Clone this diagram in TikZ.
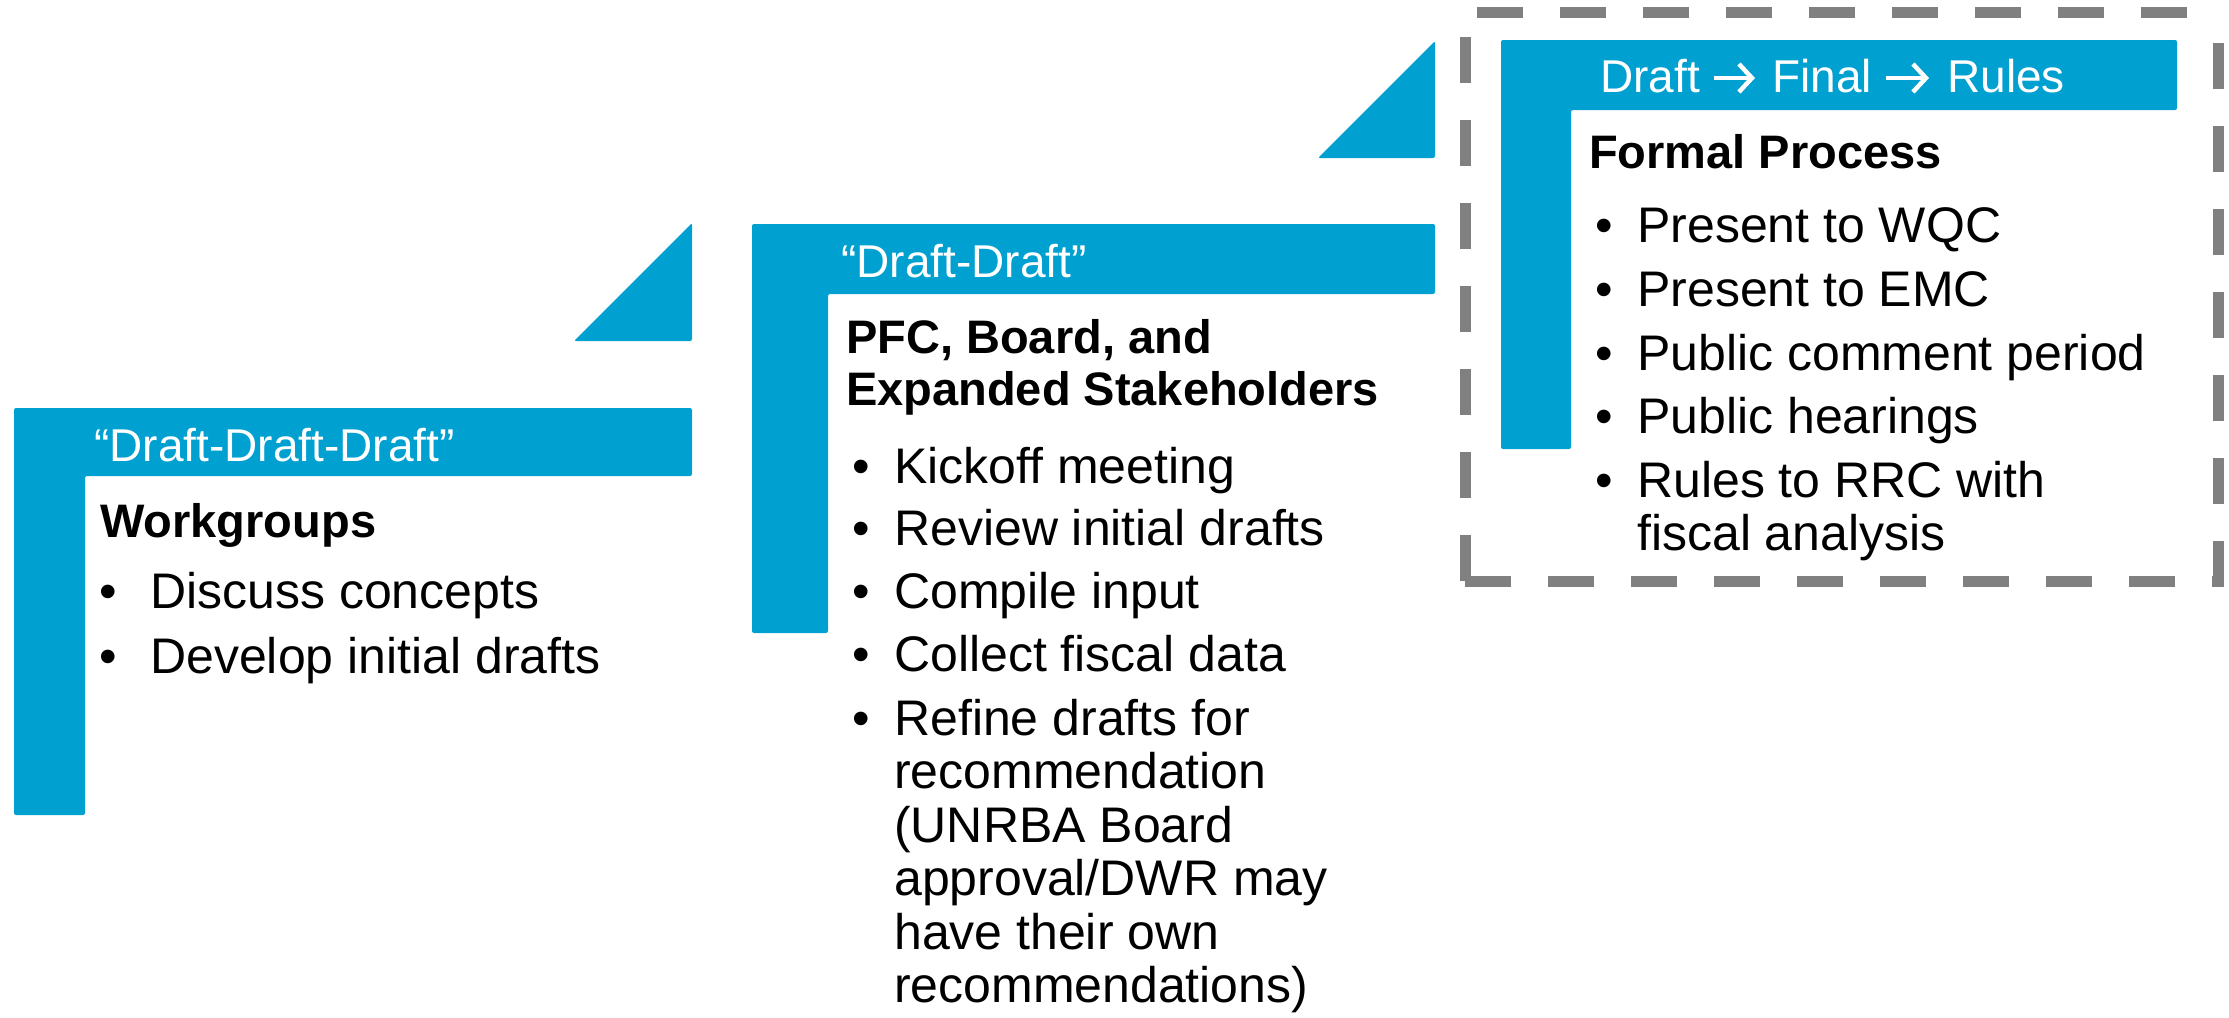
\documentclass[tikz,border=0pt]{standalone}
\usepackage{fontspec}
\setmainfont{Liberation Sans}
\usetikzlibrary{calc,arrows.meta}
\definecolor{blu}{RGB}{0,160,209}
\definecolor{dgrey}{RGB}{128,128,128}
\begin{document}
\begin{tikzpicture}[x=1pt,y=-1pt,
  bar/.style={fill=blu, rounded corners=2pt},
  dashline/.style={draw=dgrey, line width=11pt, dash pattern=on 46pt off 37pt},
  hdr/.style={anchor=base west, inner sep=0pt, text=white, font=\fontsize{46}{52}\selectfont},
  harrow/.style={draw=white, line width=4.5pt, -{Straight Barb[length=13pt,width=28pt]}},
  ttl/.style={anchor=base west, inner sep=0pt, font=\bfseries\fontsize{47}{52}\selectfont},
  bul/.style={anchor=base, inner sep=0pt, font=\fontsize{50}{54}\selectfont},
  itm/.style={anchor=base west, inner sep=0pt, font=\fontsize{50}{54}\selectfont},
]
\useasboundingbox (0,0) rectangle (2229,1017);

% dashed frame around the formal process
\coordinate (fbl) at (1465,581);
\coordinate (ftl) at (1465,12);
\coordinate (ftr) at (2218,12);
\coordinate (fbr) at (2218,581);
\draw[dashline] (fbl) -- (ftl) -- (ftr);
\draw[dashline] (fbl) -- (fbr) -- (ftr);

% L-shaped bars
\path[bar] (14,408) -- (692,408) -- (692,476) -- (85,476) -- (85,815) -- (14,815) -- cycle;
\path[bar] (752,224) -- (1435,224) -- (1435,294) -- (828,294) -- (828,633) -- (752,633) -- cycle;
\path[bar] (1501,40) -- (2177,40) -- (2177,110) -- (1571,110) -- (1571,449) -- (1501,449) -- cycle;

% step triangles
\path[bar] (692,223) -- (692,341) -- (574,341) -- cycle;
\path[bar] (1435,41) -- (1435,158) -- (1318,158) -- cycle;

% panel 1
\node[hdr] (h1) at (94,461) {“Draft-Draft-Draft”};
\node[ttl] (t1) at (100,537) {Workgroups};
\node[bul] (b1a) at (108,608) {•}; \node[itm] (i1a) at (150,608) {Discuss concepts};
\node[bul] (b1b) at (108,673) {•}; \node[itm] (i1b) at (150,673) {Develop initial drafts};

% panel 2
\node[hdr] (h2) at (841,277) {“Draft-Draft”};
\node[ttl] (t2a) at (846,353) {PFC, Board, and};
\node[ttl] (t2b) at (846,405) {Expanded Stakeholders};
\node[bul] (b2a) at (861,483) {•}; \node[itm] (i2a) at (894,483) {Kickoff meeting};
\node[bul] (b2b) at (861,545) {•}; \node[itm] (i2b) at (894,545) {Review initial drafts};
\node[bul] (b2c) at (861,608) {•}; \node[itm] (i2c) at (894,608) {Compile input};
\node[bul] (b2d) at (861,671) {•}; \node[itm] (i2d) at (894,671) {Collect fiscal data};
\node[bul] (b2e) at (861,735) {•}; \node[itm] (i2e) at (894,735) {Refine drafts for};
\node[itm] (i2f) at (894,788) {recommendation};
\node[itm] (i2g) at (894,842) {(UNRBA Board};
\node[itm] (i2h) at (894,895) {approval/DWR may};
\node[itm] (i2i) at (894,949) {have their own};
\node[itm] (i2j) at (894,1002) {recommendations)};

% panel 3
\node[hdr] (h3a) at (1600,92) {Draft};
\node[hdr] (h3b) at (1772,92) {Final};
\node[hdr] (h3c) at (1947,92) {Rules};
\draw[harrow] ($(h3a.base east)+(14,-14)$) -- ($(h3b.base west)+(-17,-14)$);
\draw[harrow] ($(h3b.base east)+(14,-14)$) -- ($(h3c.base west)+(-18,-14)$);
\node[ttl] (t3) at (1589,168) {Formal Process};
\node[bul] (b3a) at (1604,242) {•}; \node[itm] (i3a) at (1637,242) {Present to WQC};
\node[bul] (b3b) at (1604,306) {•}; \node[itm] (i3b) at (1637,306) {Present to EMC};
\node[bul] (b3c) at (1604,370) {•}; \node[itm] (i3c) at (1637,370) {Public comment period};
\node[bul] (b3d) at (1604,433) {•}; \node[itm] (i3d) at (1637,433) {Public hearings};
\node[bul] (b3e) at (1604,497) {•}; \node[itm] (i3e) at (1637,497) {Rules to RRC with};
\node[itm] (i3f) at (1637,550) {fiscal analysis};
\end{tikzpicture}
\end{document}
